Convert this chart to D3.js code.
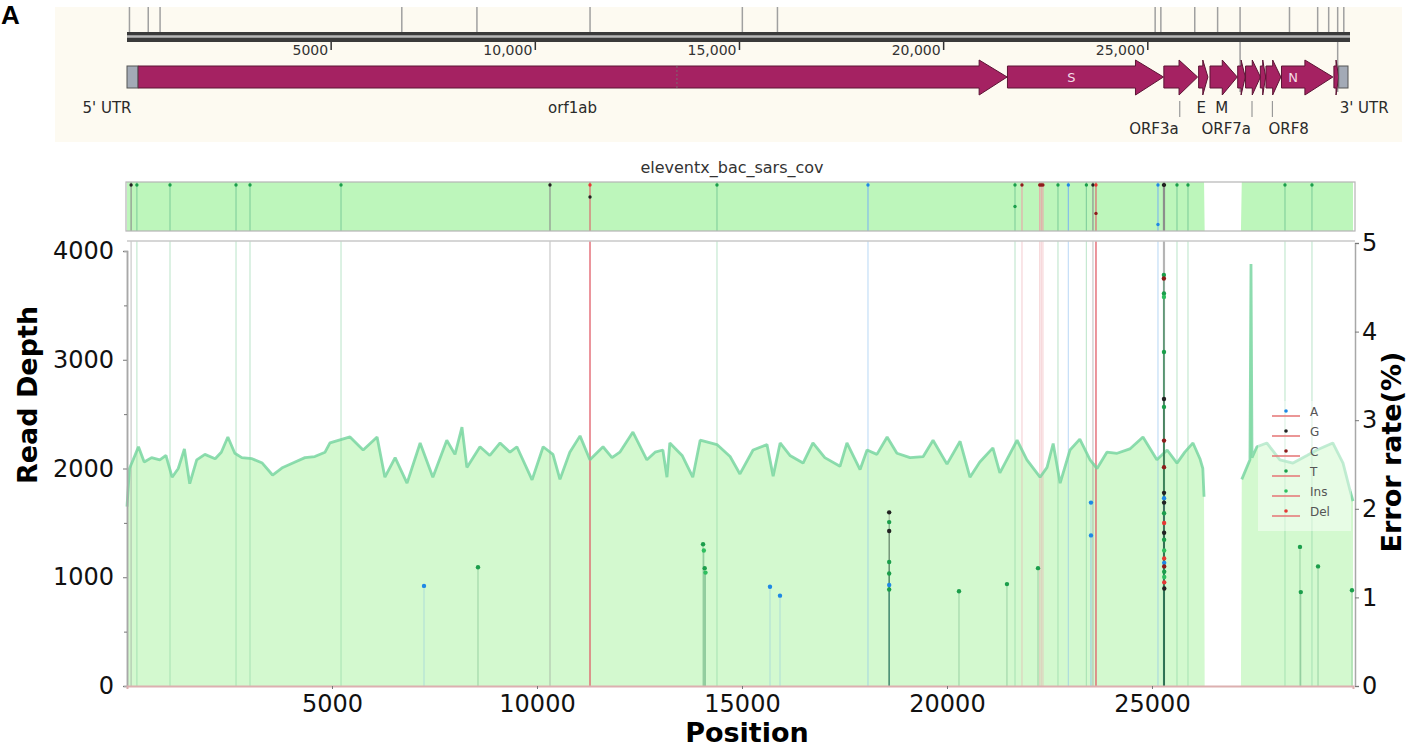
<!DOCTYPE html>
<html>
<head>
<meta charset="utf-8">
<script src="https://cdn.jsdelivr.net/npm/d3@7"></script>
<style>
  body { margin: 0; background: #fff; }
  svg { display: block; font-family: "DejaVu Sans", sans-serif; }
</style>
</head>
<body>
<div id="chart"></div>
<script>
// ---- data ----
const GENOME_LEN = 29903;

// genome map
const geneNames  = ["orf1ab", "S", "ORF3a", "E", "M", "ORF6", "ORF7a", "ORF7b", "ORF8", "N", "ORF10"];
const geneStarts = [266, 21563, 25393, 26245, 26523, 27202, 27394, 27756, 27894, 28274, 29558];
const geneEnds   = [21555, 25384, 26220, 26472, 27191, 27387, 27759, 27887, 28259, 29533, 29674];
const utrStarts  = [0, 29675];
const utrEnds    = [265, 29903];
const frameshiftPos = 13468;
const rulerTicks = [5000, 10000, 15000, 20000, 25000];
const rulerLabels = ["5000", "10,000", "15,000", "20,000", "25,000"];
const annotationPos = [60, 520, 810, 6730, 8570, 11340, 15070, 15930, 25180, 25320, 26150, 26710, 27260, 28470, 29160, 29430, 29650, 29800];
const longAnnotationPos = [27260, 29650];

// read depth along the genome
const covPos = [0, 60, 150, 280, 420, 600, 800, 950, 1100, 1250, 1400, 1530, 1700, 1900, 2150, 2300, 2460, 2630, 2800, 3050,
  3300, 3550, 3800, 4100, 4340, 4580, 4830, 4950, 5440, 5760, 6100, 6290, 6540, 6830, 7150, 7460, 7800, 8000, 8170, 8290,
  8610, 8850, 9100, 9340, 9510, 9880, 10150, 10390, 10560, 10800, 11050, 11290, 11610, 11830, 12020, 12340, 12680, 12880, 13070, 13170,
  13240, 13540, 13800, 13980, 14390, 14710, 14950, 15270, 15610, 15760, 15930, 16170, 16490, 16730, 17020, 17390, 17560, 17880, 18050, 18290,
  18540, 18780, 19100, 19420, 19660, 20000, 20320, 20560, 20800, 21120, 21290, 21710, 21950, 22270, 22440, 22590, 22760, 23000, 23240, 23490,
  23660, 23900, 24150, 24460, 24780, 25120, 25370, 25610, 25800, 26000, 26170, 26240, 26270, 26285, 27170, 27190, 27390, 27415, 27440, 27560,
  27800, 28120, 28440, 28780, 29020, 29410, 29660, 29830, 29903];
const covDepth = [1650, 2000, 2080, 2200, 2060, 2100, 2080, 2120, 1920, 2000, 2180, 1860, 2080, 2130, 2090, 2150, 2290, 2140, 2100, 2090,
  2050, 1940, 2010, 2060, 2100, 2110, 2150, 2235, 2290, 2170, 2290, 1920, 2100, 1865, 2235, 1920, 2260, 2130, 2380, 2010,
  2200, 2120, 2235, 2150, 2200, 1895, 2200, 2130, 1900, 2150, 2300, 2080, 2200, 2100, 2150, 2335, 2080, 2150, 2170, 1920,
  2235, 2120, 1920, 2260, 2220, 2110, 1950, 2170, 2220, 1930, 2235, 2120, 2050, 2235, 2100, 2020, 2235, 1990, 2170, 2130,
  2290, 2140, 2100, 2110, 2260, 2040, 2250, 1920, 2060, 2190, 1960, 2260, 2080, 1920, 2010, 2230, 1865, 2170, 2270, 2080,
  2000, 2150, 2140, 2180, 2290, 2080, 2170, 2050, 2150, 2235, 2090, 2000, 1740, 0, 0, 1900, 2080, 3880, 2100, 2200,
  2235, 2080, 2050, 2120, 2170, 2235, 2050, 1800, 1700];

// per-site error rates (%)
const errPos = [7244, 8561, 14050, 14070, 14090, 14110, 15683, 15927,
  18590, 18590, 18590, 18590, 18590, 18590, 18590, 20293, 21463, 22220, 23512, 23512,
  25290, 25290, 25292, 25292, 25293, 25293, 25293, 25294, 25294, 25294, 25295, 25295,
  25295, 25296, 25296, 25296, 25297, 25297, 25298, 25298, 25298, 25299, 25299, 25300,
  28610, 28630, 29050, 29878];
const errType = ["A", "T", "T", "Ins", "T", "Ins", "A", "A",
  "G", "T", "G", "T", "T", "A", "T", "T", "T", "T", "A", "A",
  "T", "C", "T", "Ins", "T", "G", "T", "C", "C", "G", "A", "G",
  "T", "Del", "G", "T", "Ins", "Del", "A", "C", "T", "Ins", "Del", "G",
  "T", "T", "T", "T"];
const errRate = [1.13, 1.34, 1.60, 1.53, 1.33, 1.28, 1.12, 1.02,
  1.96, 1.85, 1.75, 1.40, 1.27, 1.14, 1.09, 1.07, 1.15, 1.33, 2.07, 1.70,
  4.64, 4.60, 4.43, 4.39, 3.77, 3.24, 3.15, 2.77, 2.47, 2.18, 2.12, 2.07,
  1.95, 1.84, 1.73, 1.65, 1.53, 1.44, 1.39, 1.35, 1.29, 1.23, 1.17, 1.10,
  1.57, 1.06, 1.35, 1.08];

// variant marker lines
const markerPos = [100, 241, 1049, 2659, 3000, 5220, 10317, 11293, 14390, 18073, 21659, 21829, 22262, 22300, 22340,
  22707, 22960, 23400, 23560, 23634, 25146, 25280, 25293, 25305, 25610, 25878, 28244, 28902];
const markerType = ["G", "T", "T", "T", "T", "T", "G", "Del", "T", "A", "T", "C", "C", "C", "C",
  "T", "A", "T", "G", "Del", "A", "G", "G", "G", "T", "T", "T", "T"];
// dots inside the overview track (relative level 0-100)
const miniDotPos = [11293, 21659, 23634, 25146];
const miniDotType = ["G", "T", "C", "A"];
const miniDotLevel = [72, 50, 34, 8];

const depthTicks = [0, 1000, 2000, 3000, 4000];
const depthMinor = [500, 1500, 2500, 3500];
const errTicks = [0, 1, 2, 3, 4, 5];
const posTicks = [5000, 10000, 15000, 20000, 25000];
const legendTypes = ["A", "G", "C", "T", "Ins", "Del"];

// ---- colours ----
const typeColor = { A: "#1e88e5", G: "#222222", C: "#8e1b1b", T: "#1b9e4b", Ins: "#2fbf5f", Del: "#e53935" };
const markerColor = { A: "#7fb8f0", G: "#8a8a8a", C: "#eca3a8", T: "#80cf9c", Ins: "#80cf9c", Del: "#e25a66" };

// ---- svg ----
const W = 1427, H = 749;
const svg = d3.select("#chart").append("svg").attr("width", W).attr("height", H);

// panel letter
svg.append("text").attr("x", 1).attr("y", 24)
  .style("font-family", "Liberation Sans, Arial, sans-serif")
  .style("font-weight", "bold").style("font-size", "26px").text("A");

// ---- genome map ----
const xMap = d3.scaleLinear().domain([0, GENOME_LEN]).range([127, 1348]);
const map = svg.append("g");
map.append("rect").attr("x", 55).attr("y", 7).attr("width", 1347).attr("height", 135).attr("fill", "#fdfaf1");

map.selectAll(".anno").data(annotationPos).enter().append("line")
  .attr("x1", d => xMap(d)).attr("x2", d => xMap(d))
  .attr("y1", 7).attr("y2", d => longAnnotationPos.includes(d) ? 92 : 33)
  .attr("stroke", "#a0a0a0").attr("stroke-width", 1.5);

// ruler
map.append("rect").attr("x", xMap(0)).attr("y", 32).attr("width", xMap(GENOME_LEN) - xMap(0) + 2).attr("height", 10).attr("fill", "#3a3a3a");
map.append("line").attr("x1", xMap(0)).attr("x2", xMap(GENOME_LEN) + 2).attr("y1", 36.5).attr("y2", 36.5)
  .attr("stroke", "#b8b8b8").attr("stroke-width", 2.5);
map.selectAll(".rtick").data(rulerTicks).enter().append("line")
  .attr("x1", d => xMap(d)).attr("x2", d => xMap(d)).attr("y1", 42).attr("y2", 50)
  .attr("stroke", "#333").attr("stroke-width", 1.5);
map.selectAll(".rlab").data(rulerTicks).enter().append("text")
  .attr("x", d => xMap(d) - 3).attr("y", 55).attr("text-anchor", "end")
  .attr("fill", "#333").style("font-size", "14px").text((d, i) => rulerLabels[i]);

// genes
const geneTop = 66, geneBot = 88, headTop = 60, headBot = 95;
function genePath(s, e) {
  const x0 = xMap(s), x1 = xMap(e);
  const h = Math.min(28, (x1 - x0) * 0.55);
  const xb = x1 - h, mid = (geneTop + geneBot) / 2;
  return `M${x0},${geneTop}L${xb},${geneTop}L${xb},${headTop}L${x1},${mid}L${xb},${headBot}L${xb},${geneBot}L${x0},${geneBot}Z`;
}
map.selectAll(".gene").data(geneNames).enter().append("path")
  .attr("d", (d, i) => genePath(geneStarts[i], geneEnds[i]))
  .attr("fill", "#a52262").attr("stroke", "#5c1435").attr("stroke-width", 1);
map.selectAll(".utr").data(utrStarts).enter().append("rect")
  .attr("x", (d, i) => xMap(d)).attr("y", geneTop)
  .attr("width", (d, i) => xMap(utrEnds[i]) - xMap(d)).attr("height", geneBot - geneTop)
  .attr("fill", "#a3aab6").attr("stroke", "#555").attr("stroke-width", 1);
map.append("line").attr("x1", xMap(frameshiftPos)).attr("x2", xMap(frameshiftPos))
  .attr("y1", geneTop).attr("y2", geneBot).attr("stroke", "#7a6a70").attr("stroke-dasharray", "2,2");

// labels inside arrows
["S", "N"].forEach(name => {
  const i = geneNames.indexOf(name);
  const cx = (xMap(geneStarts[i]) + xMap(geneEnds[i]) - 28) / 2;
  map.append("text").attr("x", cx).attr("y", 82).attr("text-anchor", "middle")
    .attr("fill", "#f4dbe6").style("font-size", "13px").text(name);
});
// labels under the map
function mapLabel(x, y, anchor, t) {
  map.append("text").attr("x", x).attr("y", y).attr("text-anchor", anchor)
    .attr("fill", "#2a2a2a").style("font-size", "15px").text(t);
}
const gc = name => { const i = geneNames.indexOf(name); return xMap((geneStarts[i] + geneEnds[i]) / 2); };
mapLabel(xMap(utrStarts[0]) - 20, 113, "middle", "5' UTR");
mapLabel(gc("orf1ab"), 113, "middle", "orf1ab");
mapLabel(gc("E") - 2, 113, "middle", "E");
mapLabel(gc("M") - 2, 113, "middle", "M");
mapLabel(xMap(utrStarts[1]) + 1, 113, "start", "3' UTR");
mapLabel(gc("ORF3a") - 2, 134, "end", "ORF3a");
mapLabel(gc("ORF7a") - 2, 134, "end", "ORF7a");
mapLabel(gc("ORF8") - 5, 134, "start", "ORF8");
["ORF3a", "ORF7a", "ORF8"].forEach(n => {
  map.append("line").attr("x1", gc(n) - 1).attr("x2", gc(n) - 1).attr("y1", 101).attr("y2", 117)
    .attr("stroke", "#999").attr("stroke-width", 1.2);
});

// ---- shared scales ----
const x = d3.scaleLinear().domain([0, GENOME_LEN]).range([127, 1353]);
const yDepth = d3.scaleLinear().domain([0, 4000]).range([686, 251]);
const yErr = d3.scaleLinear().domain([0, 5]).range([686, 243]);
const plotTop = 241, plotBottom = 686, plotLeft = 127, plotRight = 1355;

const coverage = covPos.map((p, i) => ({ pos: p, depth: covDepth[i] }));
const errors = errPos.map((p, i) => ({ pos: p, type: errType[i], rate: errRate[i] }));
const markers = markerPos.map((p, i) => ({ pos: p, type: markerType[i] }));

// ---- overview track ----
svg.append("text").attr("x", 732).attr("y", 173).attr("text-anchor", "middle")
  .attr("fill", "#333").style("font-size", "16px").text("eleventx_bac_sars_cov");
const miniTop = 182, miniBot = 231;
const yMini = d3.scaleLinear().domain([0, 1500]).range([miniBot, miniTop]).clamp(true);
const yMiniLevel = d3.scaleLinear().domain([0, 100]).range([miniBot - 3, miniTop + 3]);
const mini = svg.append("g");
mini.append("path").datum(coverage)
  .attr("d", d3.area().x(d => x(d.pos)).y0(miniBot).y1(d => yMini(d.depth)))
  .attr("fill", "#bdf6bb");
mini.selectAll(".mline").data(markers).enter().append("line")
  .attr("x1", d => x(d.pos)).attr("x2", d => x(d.pos)).attr("y1", miniTop).attr("y2", miniBot)
  .attr("stroke", d => markerColor[d.type]).attr("stroke-width", 1.2).attr("opacity", 0.9);
mini.selectAll(".mdot").data(markers).enter().append("circle")
  .attr("cx", d => x(d.pos)).attr("cy", miniTop + 3).attr("r", 1.7)
  .attr("fill", d => typeColor[d.type]);
mini.selectAll(".mdot2").data(miniDotPos).enter().append("circle")
  .attr("cx", d => x(d)).attr("cy", (d, i) => yMiniLevel(miniDotLevel[i])).attr("r", 1.7)
  .attr("fill", (d, i) => typeColor[miniDotType[i]]);
mini.append("rect").attr("x", plotLeft - 1).attr("y", miniTop).attr("width", plotRight - plotLeft + 1)
  .attr("height", miniBot - miniTop).attr("fill", "none").attr("stroke", "#b5b5b5").attr("stroke-width", 1.2);

// ---- main plot ----
const main = svg.append("g");
main.append("rect").attr("x", plotLeft).attr("y", plotTop).attr("width", plotRight - plotLeft)
  .attr("height", plotBottom - plotTop).attr("fill", "#fff");
main.append("path").datum(coverage)
  .attr("d", d3.area().x(d => x(d.pos)).y0(yDepth(0)).y1(d => yDepth(d.depth)))
  .attr("fill", "#d3f9cf");
main.selectAll(".marker").data(markers).enter().append("line")
  .attr("x1", d => x(d.pos)).attr("x2", d => x(d.pos)).attr("y1", plotTop).attr("y2", plotBottom)
  .attr("stroke", d => markerColor[d.type]).attr("stroke-width", d => d.type === "Del" ? 1.6 : 1.2)
  .attr("opacity", d => d.type === "Del" ? 0.8 : 0.45);
main.append("path").datum(coverage)
  .attr("d", d3.line().defined(d => d.depth > 0).x(d => x(d.pos)).y(d => yDepth(d.depth)))
  .attr("fill", "none").attr("stroke", "#72d39c").attr("stroke-width", 2.8)
  .attr("stroke-linejoin", "bevel").attr("opacity", 0.8);

// error stems + points
main.selectAll(".stem").data(errors).enter().append("line")
  .attr("x1", d => x(d.pos)).attr("x2", d => x(d.pos)).attr("y1", plotBottom).attr("y2", d => yErr(d.rate))
  .attr("stroke", d => d.type === "A" ? "#6aaee8" : (d.type === "G" ? "#333" : "#2e8a55"))
  .attr("stroke-width", 1).attr("opacity", 0.35);
main.selectAll(".pt").data(errors).enter().append("circle")
  .attr("cx", d => x(d.pos)).attr("cy", d => yErr(d.rate)).attr("r", 2.2)
  .attr("fill", d => typeColor[d.type]);

// frame
main.append("line").attr("x1", plotLeft).attr("x2", plotRight).attr("y1", plotTop).attr("y2", plotTop)
  .attr("stroke", "#c8c8c8").attr("stroke-width", 1.5);

// legend
const lg = main.append("g");
lg.append("rect").attr("x", 1258).attr("y", 401).attr("width", 93).attr("height", 130)
  .attr("fill", "#ffffff").attr("opacity", 0.45);
const lgRows = lg.selectAll(".row").data(legendTypes).enter().append("g")
  .attr("transform", (d, i) => `translate(0,${411 + i * 20})`);
lgRows.append("line").attr("x1", 1272).attr("x2", 1300).attr("y1", 5).attr("y2", 5)
  .attr("stroke", "#e77c7c").attr("stroke-width", 1.6);
lgRows.append("circle").attr("cx", 1286).attr("cy", 0).attr("r", 1.8).attr("fill", d => typeColor[d]);
lgRows.append("text").attr("x", 1310).attr("y", 1).attr("dy", "0.35em")
  .attr("fill", "#555").style("font-size", "12px").text(d => d);

// axes
const axLeft = svg.append("g").attr("transform", `translate(${plotLeft},0)`)
  .call(d3.axisLeft(yDepth).tickValues(depthTicks).tickFormat(d3.format("d")).tickSize(4).tickPadding(9));
svg.append("g").attr("transform", `translate(${plotLeft},0)`)
  .call(d3.axisLeft(yDepth).tickValues(depthMinor).tickSize(3).tickFormat(""));
const axRight = svg.append("g").attr("transform", `translate(${plotRight},0)`)
  .call(d3.axisRight(yErr).tickValues(errTicks).tickFormat(d3.format("d")).tickSize(4).tickPadding(3));
const axBottom = svg.append("g").attr("transform", `translate(0,${plotBottom})`)
  .call(d3.axisBottom(x).tickValues(posTicks).tickFormat(d3.format("d")).tickSize(3).tickPadding(6));

svg.selectAll(".domain").attr("stroke", "#a8a8a8").attr("stroke-width", 1.5);
axBottom.select(".domain").attr("stroke", "#dcb0b0").attr("stroke-width", 2);
svg.selectAll(".tick line").attr("stroke", "#777");
[axLeft, axRight, axBottom].forEach(a => a.selectAll(".tick text")
  .style("font-family", "DejaVu Sans, sans-serif").style("font-size", "24px").attr("fill", "#111"));

// axis titles
svg.append("text").attr("transform", "translate(37,395) rotate(-90)").attr("text-anchor", "middle")
  .style("font-weight", "bold").style("font-size", "27px").text("Read Depth");
svg.append("text").attr("transform", "translate(1401,452) rotate(-90)").attr("text-anchor", "middle")
  .style("font-weight", "bold").style("font-size", "27px").text("Error rate(%)");
svg.append("text").attr("x", 747).attr("y", 742).attr("text-anchor", "middle")
  .style("font-weight", "bold").style("font-size", "27px").text("Position");
</script>
</body>
</html>
